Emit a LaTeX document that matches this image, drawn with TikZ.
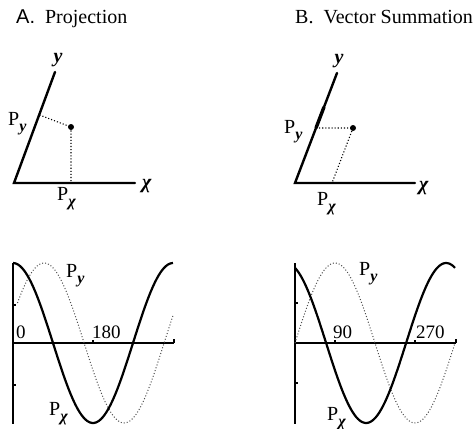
\documentclass[tikz,border=0pt]{standalone}
\usepackage{fontspec}
\setmainfont{Liberation Serif}
\newfontfamily\labsans{Liberation Sans}
\newcommand{\vy}{\textbf{\textit{y}}}
\newcommand{\vchi}{\textbf{\textit{χ}}}
\newcommand{\Psub}[1]{P\raisebox{-0.32em}{\fontsize{16}{16}\selectfont #1}}
\begin{document}
\begin{tikzpicture}[x=1pt,y=-1pt,
  axis/.style={line width=2.4pt, line cap=round},
  proj/.style={line width=1.1pt, dotted},
  plotaxis/.style={line width=1.4pt},
  tickmark/.style={line width=1.2pt},
  solidcurve/.style={line width=2.2pt, line join=round},
  dotcurve/.style={line width=1pt, dotted, black!70},
  lbl/.style={font=\fontsize{20}{20}\selectfont, inner sep=0pt},
  num/.style={font=\fontsize{19}{19}\selectfont, inner sep=0pt},
  ttl/.style={font=\fontsize{20}{20}\selectfont, inner sep=0pt}]
\useasboundingbox (0,0) rectangle (475,429);

% ---------- titles
\node[ttl, anchor=base west] (tA) at (16,23) {{\labsans A.}\ \ Projection};
\node[ttl, anchor=base west] (tB) at (295,23) {B.\ \ Vector Summation};

% ---------- top A
\coordinate (OA) at (14,183);
\coordinate (XA) at (135,183);
\coordinate (YA) at (55,72);
\coordinate (DA) at (71,127);
\coordinate (FyA) at (39.5,115);
\coordinate (FxA) at (71,183);
\draw[axis] (XA) -- (OA) -- (YA);
\draw[proj] (FyA) -- (DA) -- (FxA);
\fill (DA) circle (3pt);
\node[lbl] (yA) at (58,60) {\vy};
\node[lbl] (xA) at (147,186) {\vchi};
\node[lbl, anchor=base west] (pyA) at (8,125) {\Psub{\vy}};
\node[lbl, anchor=base west] (pxA) at (57,200) {\Psub{\vchi}};

% ---------- top B
\coordinate (OB) at (295,183);
\coordinate (XB) at (415,183);
\coordinate (YB) at (337,73);
\coordinate (DB) at (353,128);
\coordinate (FyB) at (316,128);
\coordinate (FyB2) at (324,107);
\coordinate (FxB) at (332,183);
\draw[axis] (XB) -- (OB) -- (YB);
\draw[line width=3.4pt] (FyB) -- (FyB2);
\draw[proj] (FyB) -- (DB) -- (FxB);
\fill (DB) circle (3pt);
\node[lbl] (yB) at (339,61) {\vy};
\node[lbl] (xB) at (424,188) {\vchi};
\node[lbl, anchor=base west] (pyB) at (284,133) {\Psub{\vy}};
\node[lbl, anchor=base west] (pxB) at (317,205) {\Psub{\vchi}};

% ---------- bottom A
\coordinate (VAt) at (13,263);
\coordinate (VAb) at (13,424);
\coordinate (HAl) at (13,343);
\coordinate (HAr) at (174,343);
\draw[plotaxis] (VAt) -- (VAb);
\draw[plotaxis] (HAl) -- (HAr);
\draw[tickmark] (HAr) -- ++(0,-4);
\draw[tickmark] (93,343) -- ++(0,-3);
\draw[tickmark] (13,305) -- ++(3,0);
\draw[tickmark] (13,385) -- ++(3,0);
\draw[dotcurve] plot[domain=10:360, samples=80, variable=\t]
  ({13+\t*4/9},{343-80*cos(\t-70)});
\draw[solidcurve] plot[domain=0:360, samples=90, variable=\t]
  ({13+\t*4/9},{343-80*cos(\t)});
\node[num, anchor=base west] (zA) at (16,338) {0};
\node[num, anchor=base west] (n180) at (92,338) {180};
\node[lbl, anchor=base west] (cpyA) at (66,277) {\Psub{\vy}};
\node[lbl, anchor=base west] (cpxA) at (49,415) {\Psub{\vchi}};

% ---------- bottom B
\coordinate (VBt) at (295,263);
\coordinate (VBb) at (295,424);
\coordinate (HBl) at (295,343);
\coordinate (HBr) at (456,343);
\draw[plotaxis] (VBt) -- (VBb);
\draw[plotaxis] (HBl) -- (HBr);
\draw[tickmark] (HBr) -- ++(0,-4);
\draw[tickmark] (335,343) -- ++(0,-3);
\draw[tickmark] (415,343) -- ++(0,-3);
\draw[tickmark] (295,303) -- ++(3,0);
\draw[tickmark] (295,383) -- ++(3,0);
\draw[dotcurve] plot[domain=0:360, samples=80, variable=\t]
  ({295+\t*4/9},{343-80*sin(\t)});
\draw[solidcurve] plot[domain=0:360, samples=90, variable=\t]
  ({295+\t*4/9},{343-80*cos(\t+20)});
\node[num, anchor=base west] (n90) at (333,338) {90};
\node[num, anchor=base west] (n270) at (416,338) {270};
\node[lbl, anchor=base west] (cpyB) at (359,275) {\Psub{\vy}};
\node[lbl, anchor=base west] (cpxB) at (327,420) {\Psub{\vchi}};
\end{tikzpicture}
\end{document}
